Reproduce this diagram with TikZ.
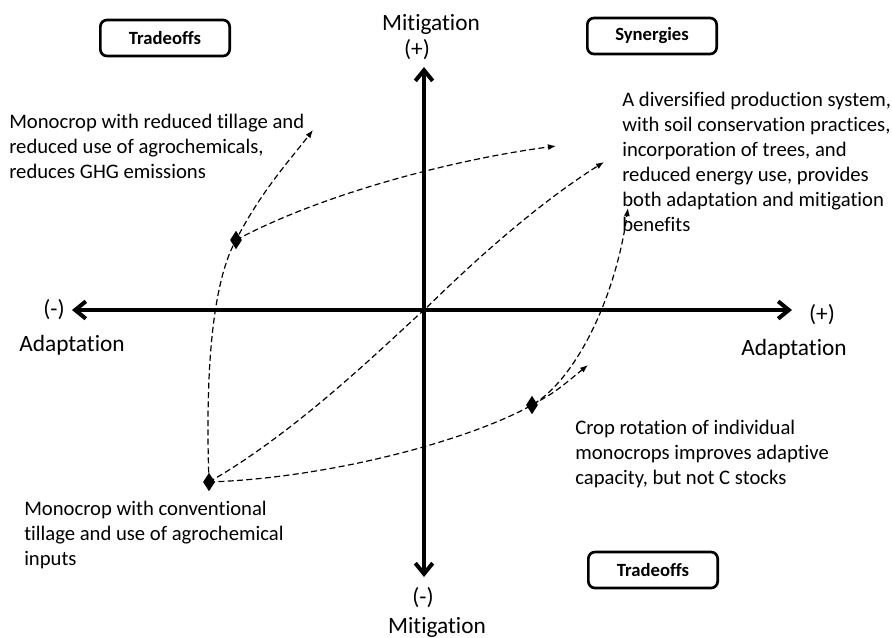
\documentclass[tikz,border=0pt]{standalone}
\usepackage{fontspec}
\setmainfont{Carlito}[RawFeature=-liga]
\usetikzlibrary{arrows.meta,shapes.geometric}
\begin{document}
\begin{tikzpicture}[x=0.75pt,y=-0.75pt,
  axis/.style={line width=3pt, {Straight Barb[length=8pt,width=13pt]}-{Straight Barb[length=8pt,width=13pt]}},
  dashline/.style={line width=0.9pt, dash pattern=on 4.5pt off 2.5pt, -{Latex[length=6pt,width=4.5pt]}},
  diam/.style={diamond, fill=black, inner sep=0pt, minimum width=9pt, minimum height=14pt},
  lbl/.style={font=\fontsize{15.5}{18.75}\selectfont, align=left, inner sep=0pt, anchor=north west},
  axlbl/.style={font=\fontsize{17.5}{21}\selectfont, inner sep=0pt},
  tag/.style={draw, line width=2pt, rounded corners=5pt, minimum width=97pt, minimum height=27pt, font=\fontsize{14}{16}\selectfont\bfseries}
]
\useasboundingbox (0,0) rectangle (892,637);

% axes
\coordinate (L) at (72,310);
\coordinate (R) at (792,310);
\coordinate (T) at (424,67);
\coordinate (B) at (424,577);
\coordinate (O) at (424,310);
\draw[axis] (L) -- (R);
\draw[axis] (B) -- (T);

% points
\coordinate (d1) at (236,240);
\coordinate (d2) at (209,482);
\coordinate (d3) at (532,405);
\coordinate (t1) at (313,130);
\coordinate (t2) at (556,146);
\coordinate (t3) at (604,162);
\coordinate (t4) at (628,208);
\coordinate (t5) at (588,365);

% dashed trajectories
\draw[dashline] (d2) .. controls (206,400) and (208,290) .. (d1) .. controls (262,190) and (290,160) .. (t1);
\draw[dashline] (d1) .. controls (320,195) and (450,160) .. (t2);
\draw[dashline] (d2) .. controls (300,430) and (390,340) .. (O) .. controls (445,290) and (520,215) .. (t3);
\draw[dashline] (d2) .. controls (330,478) and (470,440) .. (d3) .. controls (575,380) and (615,300) .. (t4);
\draw[dashline] (d3) .. controls (555,392) .. (t5);

% diamonds
\node[diam] (D1) at (d1) {};
\node[diam] (D2) at (d2) {};
\node[diam] (D3) at (d3) {};

% axis labels
\node[axlbl] (mtop) at (431,24) {Mitigation};
\node[axlbl] (ptop) at (417,50) {(+)};
\node[axlbl] (nbot) at (423,598) {(-)};
\node[axlbl] (mbot) at (437,627) {Mitigation};
\node[axlbl] (nleft) at (54,310) {(-)};
\node[axlbl] (aleft) at (72,345) {Adaptation};
\node[axlbl] (pright) at (822,315) {(+)};
\node[axlbl] (aright) at (794,349) {Adaptation};

% tags
\node[tag] (tradeTL) at (165,38) {Tradeoffs};
\node[tag] (syn) at (652,36) {Synergies};
\node[tag] (tradeBR) at (653,570) {Tradeoffs};

% descriptions
\node[lbl] (txtTL) at (9,114) {Monocrop with reduced tillage and\\reduced use of agrochemicals,\\reduces GHG emissions};
\node[lbl] (txtTR) at (622,92) {A diversified production system,\\with soil conservation practices,\\incorporation of trees, and\\reduced energy use, provides\\both adaptation and mitigation\\benefits};
\node[lbl] (txtBR) at (575,420) {Crop rotation of individual\\monocrops improves adaptive\\capacity, but not C stocks};
\node[lbl] (txtBL) at (24,501) {Monocrop with conventional\\tillage and use of agrochemical\\inputs};
\end{tikzpicture}
\end{document}
